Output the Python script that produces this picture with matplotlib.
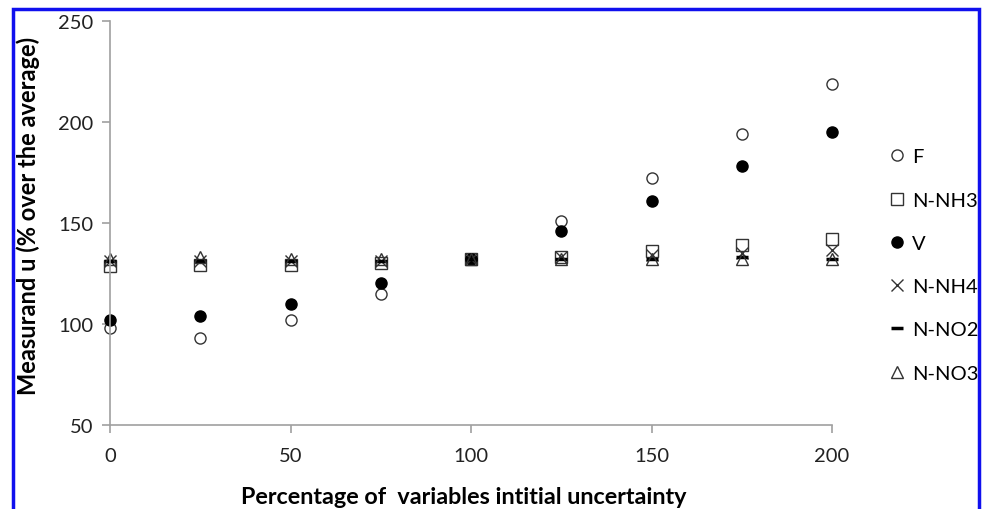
import matplotlib.pyplot as plt
from matplotlib.patches import Rectangle

# values
x_pct = [0, 25, 50, 75, 100, 125, 150, 175, 200]
f_vals = [98, 93, 102, 115, 132, 151, 172, 194, 219]
n_nh3 = [128.5, 129, 129, 130, 132, 133, 136, 139, 142]
v_vals = [102, 104, 110, 120, 132, 146, 161, 178, 195]
n_nh4 = [131, 131, 131, 131, 132, 133, 134, 135, 136.5]
n_no2 = [131, 131, 131, 131, 132, 132, 132, 133, 132]
n_no3 = [132, 133, 132, 132, 132, 132, 132, 132, 132]

plt.rcParams['font.family'] = ['Lato', 'DejaVu Sans']

fig = plt.figure(figsize=(9.87, 5.10), dpi=100)
ax = fig.add_axes([0.1115, 0.165, 0.7315, 0.792])

# Plot each series with Excel-like markers
style = dict(linestyle='none', ms=8, clip_on=False)
ax.plot(x_pct, f_vals, marker='o', mfc='none', mec='#333333', mew=1.0, label='F', **style)
ax.plot(x_pct, n_nh3, marker='s', mfc='none', mec='#333333', mew=1.0, label='N-NH3', **style)
ax.plot(x_pct, v_vals, marker='o', mfc='black', mec='black', label='V', **style)
ax.plot(x_pct, n_nh4, marker='x', mec='#333333', mew=1.0, label='N-NH4', **style)
ax.plot(x_pct, n_no2, marker='_', mec='black', mew=2.5, label='N-NO2', **style)
ax.plot(x_pct, n_no3, marker='^', mfc='none', mec='#333333', mew=1.0, label='N-NO3', **style)

ax.set_xlim(0, 200)
ax.set_ylim(50, 250)
ax.set_xticks([0, 50, 100, 150, 200])
ax.set_yticks([50, 100, 150, 200, 250])
for side in ['top', 'right']:
    ax.spines[side].set_visible(False)
for side in ['left', 'bottom']:
    ax.spines[side].set_color('#a0a0a0')
    ax.spines[side].set_linewidth(1.2)
ax.tick_params(axis='both', colors='#a0a0a0', length=6, width=1.2, labelsize=14.5, labelcolor='#222222')
ax.tick_params(axis='x', pad=10)
ax.tick_params(axis='y', pad=6)

ax.set_xlabel('Percentage of  variables intitial uncertainty', fontsize=16.8, fontweight='bold')
ax.set_ylabel('Measurand u (% over the average)', fontsize=17, fontweight='bold')
ax.xaxis.set_label_coords(0.49, -0.178)
ax.xaxis.label.set_va('center')
ax.yaxis.set_label_coords(-0.114, 0.52)
ax.yaxis.label.set_va('center')

leg = ax.legend(loc='center left', bbox_to_anchor=(879 / 987, 1 - 266 / 510),
                bbox_transform=fig.transFigure, frameon=False, fontsize=14.5,
                labelspacing=1.3, handlelength=0.8, handletextpad=0.35, borderpad=0)

# blue frame around the figure
fig.patches.append(Rectangle((13 / 987, -0.05), (979 - 13) / 987, 1 - 10 / 510 + 0.05,
                             transform=fig.transFigure, fill=False, edgecolor='#1010ee', linewidth=2.5))

plt.savefig('out.png', dpi=100)
